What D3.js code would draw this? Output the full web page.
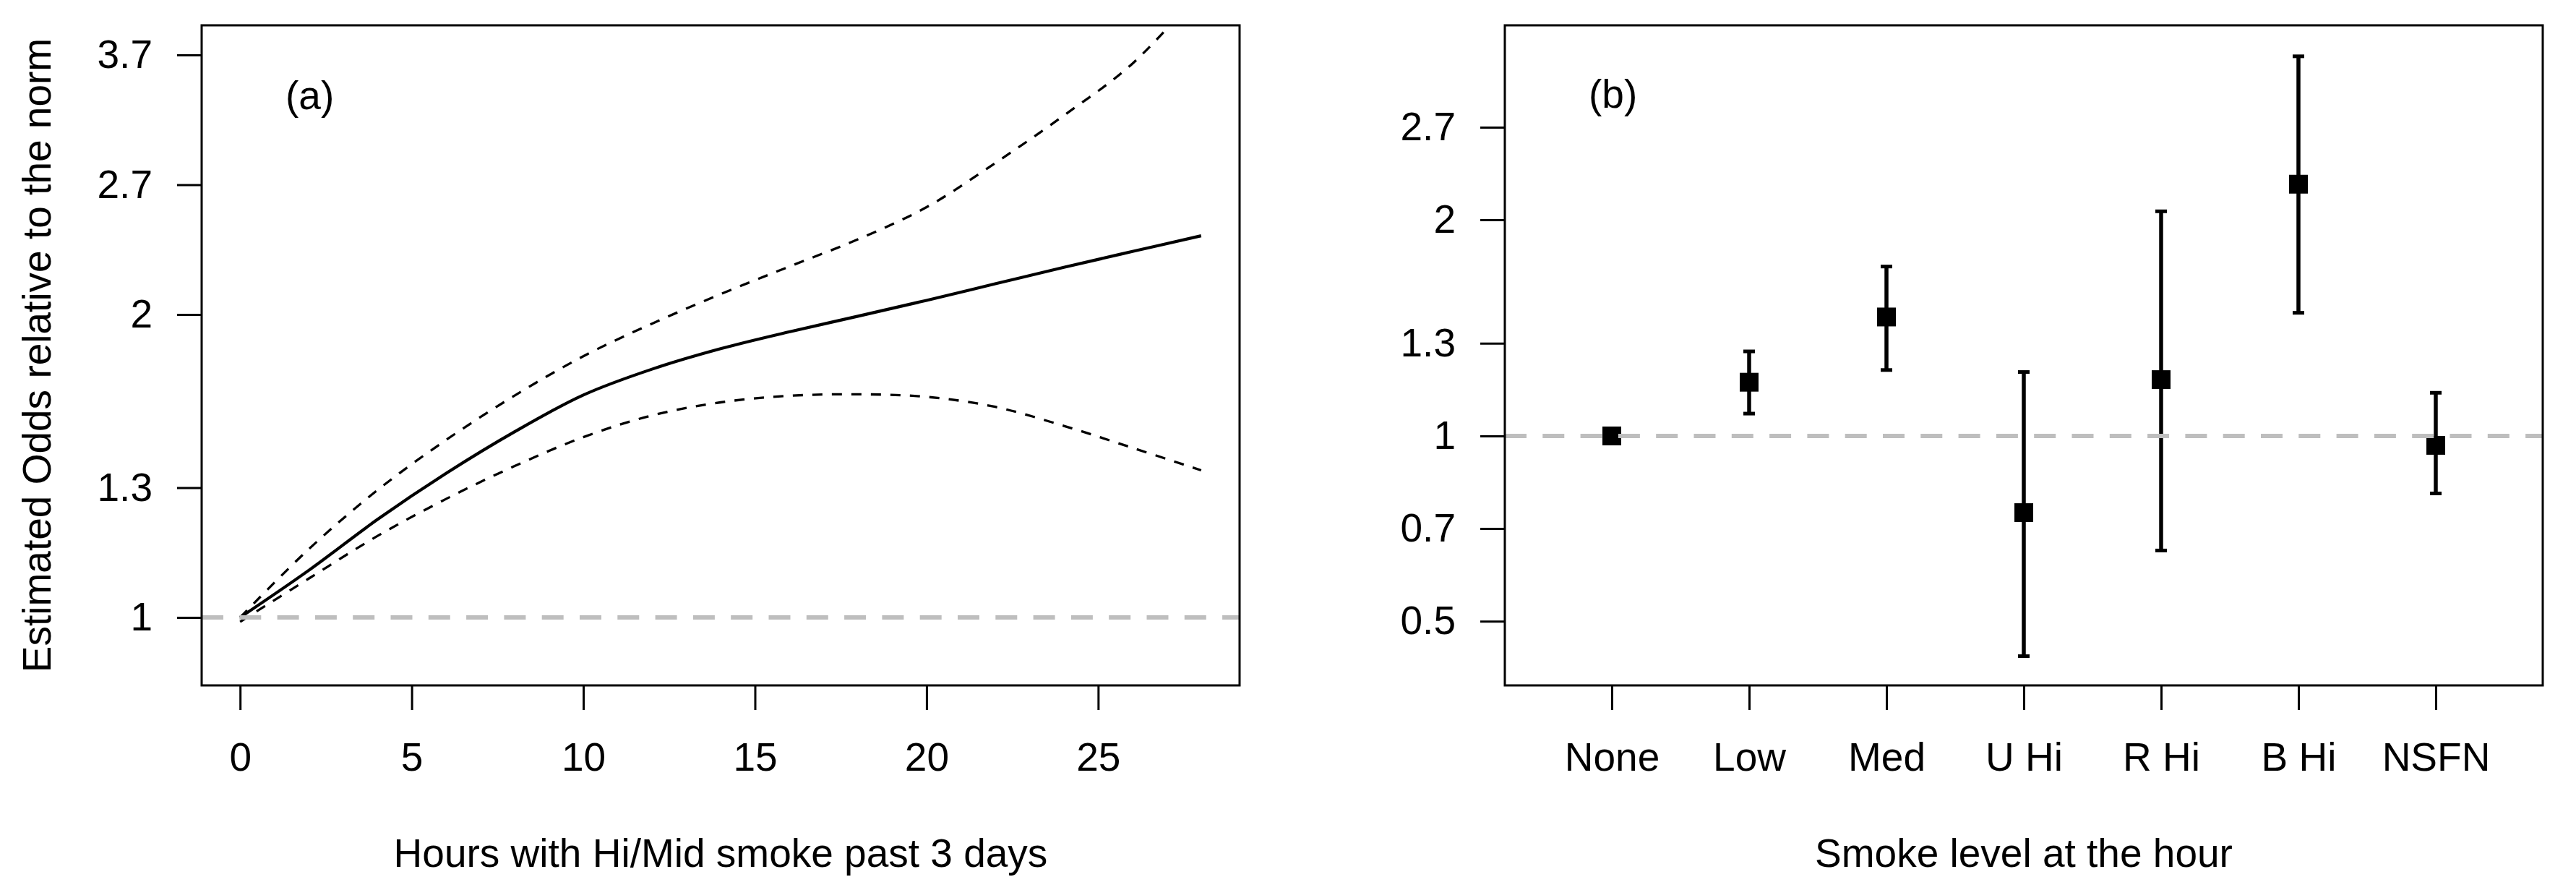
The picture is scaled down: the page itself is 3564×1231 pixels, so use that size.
<!DOCTYPE html>
<html>
<head>
<meta charset="utf-8">
<script src="https://cdn.jsdelivr.net/npm/d3@7"></script>
<style>
  body { margin: 0; background: #fff; }
  text { font-family: "Liberation Sans", Arial, sans-serif; }
</style>
</head>
<body>
<svg id="chart" width="3564" height="1231"></svg>
<script>
// panel (a): smoothed odds curve with its band
const hours = [0, 2, 4, 6, 8, 10, 12, 14, 16, 18, 20, 22, 24, 26, 28];
const fitOdds = [1.000, 1.115, 1.254, 1.395, 1.536, 1.672, 1.775, 1.861, 1.935, 2.006, 2.081, 2.162, 2.246, 2.330, 2.416];
const upperOdds = [1.000, 1.171, 1.342, 1.507, 1.670, 1.829, 1.972, 2.111, 2.250, 2.396, 2.581, 2.858, 3.190, 3.597, 4.260];
const lowerOdds = [0.990, 1.094, 1.207, 1.315, 1.419, 1.517, 1.595, 1.644, 1.669, 1.675, 1.665, 1.627, 1.557, 1.480, 1.405];
const hourTicks = [0, 5, 10, 15, 20, 25];
const leftTickLogs = [0, 0.3, 0.7, 1.0, 1.3];
const leftTickLabels = ['1', '1.3', '2', '2.7', '3.7'];

// panel (b): odds by smoke level
const levels = ['None', 'Low', 'Med', 'U Hi', 'R Hi', 'B Hi', 'NSFN'];
const levelOdds = [1.00, 1.19, 1.47, 0.78, 1.20, 2.26, 0.97];
const levelLower = [1.00, 1.075, 1.238, 0.49, 0.69, 1.49, 0.83];
const levelUpper = [1.00, 1.315, 1.731, 1.23, 2.07, 3.42, 1.15];
const rightTickLogs = [-0.6, -0.3, 0, 0.3, 0.7, 1.0];
const rightTickLabels = ['0.5', '0.7', '1', '1.3', '2', '2.7'];

const font = '"Liberation Sans", Arial, sans-serif';
const fontSize = 55;
const plotTop = 35, plotBottom = 948;
const svg = d3.select('#chart');

function frame(x0, x1) {
    svg.append('rect')
        .attr('x', x0).attr('y', plotTop)
        .attr('width', x1 - x0).attr('height', plotBottom - plotTop)
        .attr('fill', 'none').attr('stroke', '#000').attr('stroke-width', 3);
}

function styleAxis(g) {
    g.select('.domain').remove();
    g.selectAll('.tick line').attr('stroke', '#000').attr('stroke-width', 3);
    g.selectAll('.tick text').attr('fill', '#000');
    g.attr('font-size', fontSize).attr('font-family', font);
}

function refLine(x0, x1, y) {
    svg.append('line')
        .attr('x1', x0).attr('x2', x1)
        .attr('y1', y(1)).attr('y2', y(1))
        .attr('stroke', '#bebebe').attr('stroke-width', 6)
        .attr('stroke-dasharray', '30,22.3');
}

// ---------- panel (a) ----------
const xA = d3.scaleLinear().domain([-1.12, 29.12]).range([279, 1715]);
const yA = d3.scaleLog().domain([Math.exp(-0.157), Math.exp(1.3685)]).range([plotBottom, plotTop]);

svg.append('defs').append('clipPath').attr('id', 'clipA')
    .append('rect').attr('x', 279).attr('y', plotTop).attr('width', 1436).attr('height', plotBottom - plotTop);

const lineA = d3.line()
    .x((d, i) => xA(hours[i]))
    .y(d => yA(d))
    .curve(d3.curveCatmullRom.alpha(0.5));

const curves = svg.append('g').attr('clip-path', 'url(#clipA)');
curves.append('path').datum(upperOdds).attr('d', lineA)
    .attr('fill', 'none').attr('stroke', '#000').attr('stroke-width', 3.3).attr('stroke-dasharray', '14,13');
curves.append('path').datum(lowerOdds).attr('d', lineA)
    .attr('fill', 'none').attr('stroke', '#000').attr('stroke-width', 3.3).attr('stroke-dasharray', '14,13');
curves.append('path').datum(fitOdds).attr('d', lineA)
    .attr('fill', 'none').attr('stroke', '#000').attr('stroke-width', 4.2);

refLine(279, 1715, yA);
frame(279, 1715);

svg.append('g')
    .attr('transform', `translate(0,${plotBottom})`)
    .call(d3.axisBottom(xA).tickValues(hourTicks).tickFormat(d3.format('d'))
        .tickSize(34).tickSizeOuter(0).tickPadding(45))
    .call(styleAxis);

svg.append('g')
    .attr('transform', 'translate(279,0)')
    .call(d3.axisLeft(yA).tickValues(leftTickLogs.map(Math.exp))
        .tickFormat((d, i) => leftTickLabels[i])
        .tickSize(34).tickSizeOuter(0).tickPadding(34))
    .call(styleAxis);

svg.append('text')
    .attr('x', 395).attr('y', 151)
    .attr('font-size', fontSize).text('(a)');

svg.append('text')
    .attr('x', (279 + 1715) / 2).attr('y', 1199)
    .attr('text-anchor', 'middle').attr('font-size', fontSize)
    .text('Hours with Hi/Mid smoke past 3 days');

svg.append('text')
    .attr('transform', `translate(70,${(plotTop + plotBottom) / 2}) rotate(-90)`)
    .attr('text-anchor', 'middle').attr('font-size', fontSize)
    .text('Estimated Odds relative to the norm');

// ---------- panel (b) ----------
const xB = d3.scalePoint().domain(levels).range([2082, 3518]).padding(0.779);
const yB = d3.scaleLog().domain([Math.exp(-0.808), Math.exp(1.330)]).range([plotBottom, plotTop]);

const bars = svg.append('g');
levels.forEach((lev, i) => {
    const cx = xB(lev);
    if (levelUpper[i] > levelLower[i]) {
        bars.append('line')
            .attr('x1', cx).attr('x2', cx)
            .attr('y1', yB(levelLower[i])).attr('y2', yB(levelUpper[i]))
            .attr('stroke', '#000').attr('stroke-width', 5.5);
        [levelLower[i], levelUpper[i]].forEach(v => {
            bars.append('line')
                .attr('x1', cx - 8).attr('x2', cx + 8)
                .attr('y1', yB(v)).attr('y2', yB(v))
                .attr('stroke', '#000').attr('stroke-width', 5);
        });
    }
    bars.append('rect')
        .attr('x', cx - 13).attr('y', yB(levelOdds[i]) - 13)
        .attr('width', 26).attr('height', 26)
        .attr('fill', '#000');
});

refLine(2082, 3518, yB);
frame(2082, 3518);

svg.append('g')
    .attr('transform', `translate(0,${plotBottom})`)
    .call(d3.axisBottom(xB).tickSize(34).tickSizeOuter(0).tickPadding(45))
    .call(styleAxis);

svg.append('g')
    .attr('transform', 'translate(2082,0)')
    .call(d3.axisLeft(yB).tickValues(rightTickLogs.map(Math.exp))
        .tickFormat((d, i) => rightTickLabels[i])
        .tickSize(34).tickSizeOuter(0).tickPadding(34))
    .call(styleAxis);

svg.append('text')
    .attr('x', 2198).attr('y', 149)
    .attr('font-size', fontSize).text('(b)');

svg.append('text')
    .attr('x', (2082 + 3518) / 2).attr('y', 1199)
    .attr('text-anchor', 'middle').attr('font-size', fontSize)
    .text('Smoke level at the hour');
</script>
</body>
</html>
